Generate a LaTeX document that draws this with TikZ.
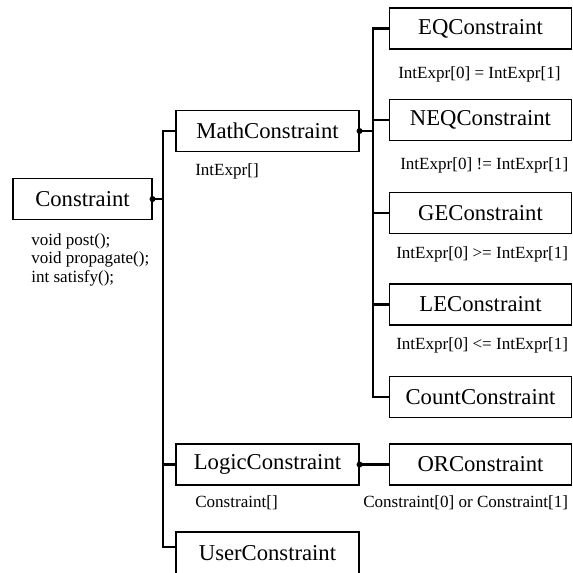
\documentclass[tikz,border=0pt]{standalone}
\usepackage{fontspec}
\setmainfont{Liberation Serif}
\begin{document}
\begin{tikzpicture}[x=0.75pt,y=-0.75pt,
  box/.style={draw,line width=0.8pt,inner sep=0pt,minimum height=30.75pt,minimum width=#1*0.75pt,font=\fontsize{17}{20}\selectfont},
  lbl/.style={inner sep=0pt,anchor=base west,font=\fontsize{12.8}{15}\selectfont},
  conn/.style={line width=1.9pt},
  dot/.style={fill,circle,inner sep=0pt,minimum size=4.5pt}]
\useasboundingbox (0,0) rectangle (573,572);
\clip (0,0) rectangle (573,572);
% boxes
\node[box=139] (C) at (82.5,199) {Constraint};
\node[box=183] (M) at (267.5,131) {MathConstraint};
\node[box=182] (EQ) at (480.5,28.5) {EQConstraint};
\node[box=182] (NEQ) at (480.5,120) {NEQConstraint};
\node[box=182] (GE) at (480.5,213) {GEConstraint};
\node[box=182] (LE) at (480.5,304.5) {LEConstraint};
\node[box=182] (CNT) at (480.5,397) {CountConstraint};
\node[box=183] (L) at (267.5,464.5) {LogicConstraint};
\node[box=182] (OR) at (480.5,464.5) {ORConstraint};
\node[box=183,minimum height=42*0.75pt,text depth=0pt] (U) at (267.5,553) {UserConstraint};
% labels
\node[lbl] (c1) at (31,245) {void post();};
\node[lbl] (c2) at (31,263.5) {void propagate();};
\node[lbl] (c3) at (31,282) {int satisfy();};
\node[lbl] (ml) at (195,175.5) {IntExpr[]};
\node[lbl] (eql) at (398,78.5) {IntExpr[0] = IntExpr[1]};
\node[lbl] (neql) at (400,169) {IntExpr[0] != IntExpr[1]};
\node[lbl] (gel) at (396,258) {IntExpr[0] >= IntExpr[1]};
\node[lbl] (lel) at (396,349) {IntExpr[0] <= IntExpr[1]};
\node[lbl] (ll) at (195,507) {Constraint[]};
\node[lbl] (orl) at (363,507) {Constraint[0] or Constraint[1]};
% trunk coordinates
\coordinate (t1) at (163,0);
\coordinate (t2) at (373,0);
\coordinate (ua) at ([yshift=4.5pt]U.west);
% first level
\draw[conn] (M.west) -- (M.west -| t1) -- (ua -| t1) -- (ua);
\draw[conn] (C.east) -- (C.east -| t1);
\draw[conn] (L.west) -- (L.west -| t1);
\node[dot] (d1) at (C.east) {};
% second level
\draw[conn] (EQ.west) -- (EQ.west -| t2) -- (CNT.west -| t2) -- (CNT.west);
\draw[conn] (M.east) -- (M.east -| t2);
\draw[conn] (NEQ.west) -- (NEQ.west -| t2);
\draw[conn] (GE.west) -- (GE.west -| t2);
\draw[conn] (LE.west) -- (LE.west -| t2);
\node[dot] (d2) at (M.east) {};
\draw[conn] (L.east) -- (OR.west);
\node[dot] (d3) at (L.east) {};
\end{tikzpicture}
\end{document}
